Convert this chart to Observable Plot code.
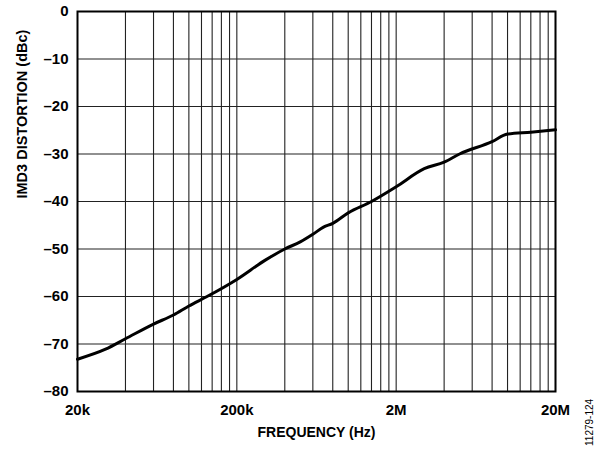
<!DOCTYPE html>
<html>
<head>
<meta charset="utf-8">
<script src="https://cdn.jsdelivr.net/npm/d3@7"></script>
<script src="https://cdn.jsdelivr.net/npm/@observablehq/plot@0.6"></script>
<style>
  html, body { margin: 0; padding: 0; background: #fff; }
  #chart { position: relative; width: 602px; height: 452px; }
  #chart svg { font-family: "Liberation Sans", Arial, sans-serif; }
  #code { position: absolute; left: 584px; top: 446px; transform: rotate(-90deg); transform-origin: 0 0;
          font: 10px "Liberation Sans", Arial, sans-serif; color: #000; white-space: nowrap; }
</style>
</head>
<body>
<div id="chart"></div>
<script>
// Frequency (Hz) and IMD3 distortion (dBc)
const frequency = [20e3, 30e3, 40e3, 60e3, 80e3, 100e3, 130e3, 200e3, 300e3, 400e3, 500e3, 600e3, 700e3, 800e3, 1e6, 1.4e6, 2e6, 3e6, 4e6, 5e6, 8e6, 10e6, 14e6, 20e6];
const imd3 = [-73.2, -71.1, -68.9, -65.8, -63.9, -62.0, -60.0, -56.4, -52.4, -50.0, -48.5, -46.9, -45.4, -44.6, -42.4, -40.0, -36.9, -33.1, -31.7, -30.0, -27.4, -25.8, -25.4, -24.9];

const xTicks = [20e3, 200e3, 2e6, 20e6];
const xTickLabels = ["20k", "200k", "2M", "20M"];
const yTicks = [0, -10, -20, -30, -40, -50, -60, -70, -80];
const yTickLabels = ["0", "–10", "–20", "–30", "–40", "–50", "–60", "–70", "–80"];
const gridDecades = [20e3, 200e3, 2e6];
const gridMultipliers = [2, 3, 4, 5, 6, 7, 8, 9, 10];

const data = frequency.map((f, i) => ({f, v: imd3[i]}));
const xGrid = gridDecades.flatMap(d => gridMultipliers.map(m => d * m));

const chart = Plot.plot({
  width: 602,
  height: 452,
  marginTop: 11,
  marginBottom: 61,
  marginLeft: 77,
  marginRight: 47,
  style: {fontFamily: "'Liberation Sans', Arial, sans-serif", background: "#fff"},
  x: {type: "log", domain: [20e3, 20e6]},
  y: {domain: [-80, 0]},
  marks: [
    Plot.gridX(xGrid, {stroke: "#222", strokeOpacity: 1, strokeWidth: 1.1}),
    Plot.gridY(yTicks, {stroke: "#222", strokeOpacity: 1, strokeWidth: 1.1}),
    Plot.line(data, {x: "f", y: "v", stroke: "#000", strokeWidth: 3, curve: "monotone-x"}),
    Plot.frame({stroke: "#000", strokeWidth: 2}),
    Plot.axisX(xTicks, {tickSize: 0, tickPadding: 13, fontSize: 15, fontWeight: "bold",
      tickFormat: (d) => xTickLabels[xTicks.indexOf(d)], label: null}),
    Plot.axisY(yTicks, {tickSize: 0, tickPadding: 9, fontSize: 15, fontWeight: "bold",
      tickFormat: (d) => yTickLabels[yTicks.indexOf(d)], label: null}),
    Plot.text(["FREQUENCY (Hz)"], {frameAnchor: "bottom", dy: 45, fontSize: 14, fontWeight: "bold", fill: "#000"}),
    Plot.text(["IMD3 DISTORTION (dBc)"], {frameAnchor: "left", dx: -55, dy: -3, rotate: -90, fontSize: 14.5, fontWeight: "bold", fill: "#000"})
  ]
});
document.getElementById("chart").appendChild(chart);
const code = document.createElement("div");
code.id = "code";
code.textContent = "11279-124";
document.getElementById("chart").appendChild(code);
</script>
</body>
</html>
